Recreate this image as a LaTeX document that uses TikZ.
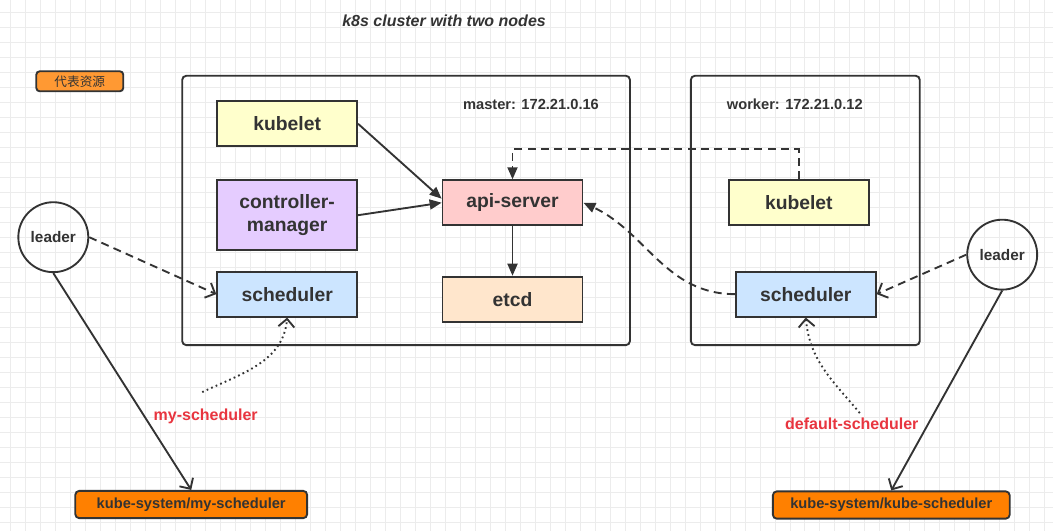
\documentclass[tikz,border=0pt]{standalone}
\usepackage{fontspec}
\setmainfont{Liberation Sans}
\newfontfamily\cjkfont{Noto Sans CJK SC}
\usetikzlibrary{arrows.meta}
\definecolor{inkdark}{HTML}{333333}
\definecolor{kubeletyellow}{HTML}{FFFFCC}
\definecolor{ctrlpurple}{HTML}{E5CCFF}
\definecolor{schedblue}{HTML}{CCE5FF}
\definecolor{apipink}{HTML}{FFCCCC}
\definecolor{etcdpeach}{HTML}{FFE6CC}
\definecolor{legendorange}{HTML}{FF9933}
\definecolor{leaseorange}{HTML}{FF8000}
\definecolor{schedred}{HTML}{E8353F}

\begin{document}
\begin{tikzpicture}[x=0.75pt,y=-0.75pt,
    every node/.style={text=inkdark, font=\bfseries},
    gridline/.style={draw=gray!15, line width=0.5pt},
    hostbox/.style={draw=inkdark, line width=1.4pt, rounded corners=3pt, inner sep=0pt, minimum height=202.1pt},
    hostlabel/.style={font=\fontsize{11}{13}\selectfont\bfseries},
    comp/.style={draw=inkdark, line width=1.4pt, minimum width=105pt, minimum height=33.75pt,
      inner sep=0pt, align=center, font=\fontsize{14.5}{17.5}\selectfont\bfseries},
    leaderdisc/.style={circle, draw=inkdark, line width=1.4pt, minimum size=52.5pt, inner sep=0pt,
      font=\fontsize{11.5}{13}\selectfont\bfseries},
    leasebox/.style={draw=inkdark, line width=1.4pt, rounded corners=3pt, fill=leaseorange,
      minimum height=20.5pt, inner sep=0pt, font=\fontsize{11}{13}\selectfont\bfseries},
    legendbox/.style={draw=inkdark, line width=1.4pt, rounded corners=2.5pt, fill=legendorange,
      minimum width=65.25pt, minimum height=15pt, inner sep=0pt, font=\cjkfont\fontsize{9.5}{11}\selectfont},
    schedname/.style={text=schedred, font=\fontsize{12}{14}\selectfont\bfseries},
    apicall/.style={draw=inkdark, line width=1.4pt, -{Triangle[length=9pt,width=7.5pt]}},
    watchline/.style={apicall, dash pattern=on 6pt off 4pt},
    electline/.style={draw=inkdark, line width=1.4pt, dash pattern=on 6pt off 4pt,
      -{Straight Barb[length=6pt,width=12pt]}},
    leaseline/.style={draw=inkdark, line width=1.4pt, -{Straight Barb[length=6pt,width=12pt]}},
    pickline/.style={draw=inkdark, line width=1.4pt, dash pattern=on 1.3pt off 2.4pt,
      -{Straight Barb[length=6pt,width=12pt]}}]

  \fill[white] (0,0) rectangle (1053,531);
  \foreach \gx in {10,25,...,1045} \draw[gridline] (\gx,0) -- (\gx,531);
  \foreach \gy in {12,27,...,522} \draw[gridline] (0,\gy) -- (1053,\gy);
  \useasboundingbox (0,0) rectangle (1053,531);

  \node (title) at (444,20) {\fontsize{12}{14}\selectfont\bfseries\itshape k8s cluster with two nodes};
  \node[legendbox] (legend) at (79.5,81) {代表资源};

  \node[hostbox, minimum width=336pt] (master) at (406,210.25) {};
  \node[hostbox, minimum width=171.75pt] (worker) at (805.5,210.25) {};
  \node[hostlabel] (mastertag) at (531,104) {master: 172.21.0.16};
  \node[hostlabel] (workertag) at (795,104) {worker: 172.21.0.12};

  \node[comp, fill=kubeletyellow] (mkubelet) at (287,123.5) {kubelet};
  \node[comp, fill=ctrlpurple, minimum height=52.5pt] (ctrlmgr) at (287,215) {controller-\\manager};
  \node[comp, fill=schedblue] (msched) at (287,294) {scheduler};
  \node[comp, fill=apipink] (apiserver) at (512.5,202.5) {api-server};
  \node[comp, fill=etcdpeach] (etcd) at (512.5,299) {etcd};
  \node[comp, fill=kubeletyellow] (wkubelet) at (799,202.5) {kubelet};
  \node[comp, fill=schedblue] (wsched) at (806,294) {scheduler};

  \node[leaderdisc] (leaderL) at (53,237) {leader};
  \node[leaderdisc] (leaderR) at (1002.5,254.5) {leader};

  \node[leasebox, minimum width=174pt] (mylease) at (191,504.5) {kube-system/my-scheduler};
  \node[leasebox, minimum width=177.75pt] (kubelease) at (891.5,505) {kube-system/kube-scheduler};

  \node[schedname] (mytag) at (205.5,416) {my-scheduler};
  \node[schedname] (defaulttag) at (852,424) {default-scheduler};
  \coordinate (mypick) at (202,392);
  \coordinate (defaultpick) at (860,413);

  \draw[apicall] (mkubelet.east) -- ([yshift=3pt]apiserver.west);
  \draw[apicall] (ctrlmgr.east) -- (apiserver.west);
  \draw[apicall] (apiserver.south) -- (etcd.north);
  \draw[watchline] (wkubelet.north) -- ++(0,-30) -| (apiserver.north);
  \draw[watchline] (wsched.west) to[out=180,in=-25] (apiserver.east);
  \draw[electline] (leaderL.east) -- (msched.west);
  \draw[electline] (leaderR.west) -- (wsched.east);
  \draw[leaseline] (leaderL.south) -- (mylease.north);
  \draw[leaseline] (leaderR.south) -- (kubelease.north);
  \draw[pickline] (mypick) to[out=25,in=-95] (msched.south);
  \draw[pickline] (defaultpick) to[out=130,in=-85] (wsched.south);
\end{tikzpicture}
\end{document}
